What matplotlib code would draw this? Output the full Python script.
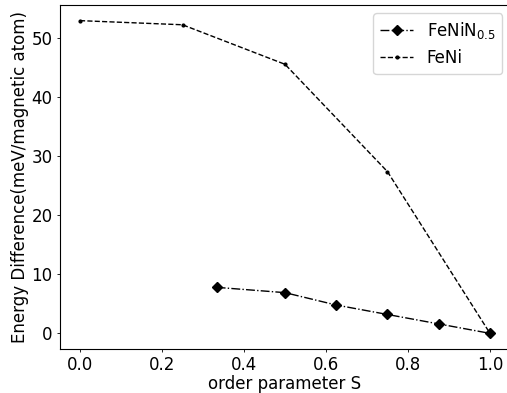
import matplotlib
matplotlib.use("Agg")
import matplotlib.pyplot as plt

s_fenin = [1/3, 0.5, 0.625, 0.75, 0.875, 1.0]
e_fenin = [7.8, 6.9, 4.8, 3.2, 1.6, 0.0]
s_feni = [0.0, 0.25, 0.5, 0.75, 1.0]
e_feni = [53.0, 52.3, 45.6, 27.4, 0.0]

plt.rcParams['font.size'] = 12
plt.rcParams['xtick.major.size'] = 2.5
plt.rcParams['ytick.major.size'] = 2.5
plt.rcParams['xtick.major.pad'] = 2.5
plt.rcParams['ytick.major.pad'] = 2.5
plt.rcParams['xtick.major.width'] = 0.6
plt.rcParams['ytick.major.width'] = 0.6
fig = plt.figure(figsize=(5.07, 3.93), dpi=100)
ax = fig.add_axes([59.5/507, (393-349)/393, (510.5-59.5)/507, (349-5)/393])
ax.plot(s_fenin, e_fenin, 'k-.', marker='D', markersize=5, linewidth=1, label=r'FeNiN$_{0.5}$')
ax.plot(s_feni, e_feni, 'k--', marker='.', markersize=4, linewidth=1, label='FeNi')
ax.set_xlabel('order parameter S', labelpad=0.5)
ax.set_ylabel('Energy Difference(meV/magnetic atom)', labelpad=2)
ax.set_xticks([0.0, 0.2, 0.4, 0.6, 0.8, 1.0])
ax.set_yticks([0, 10, 20, 30, 40, 50])
ax.legend(loc='upper right')
fig.savefig('out.png', dpi=100)
